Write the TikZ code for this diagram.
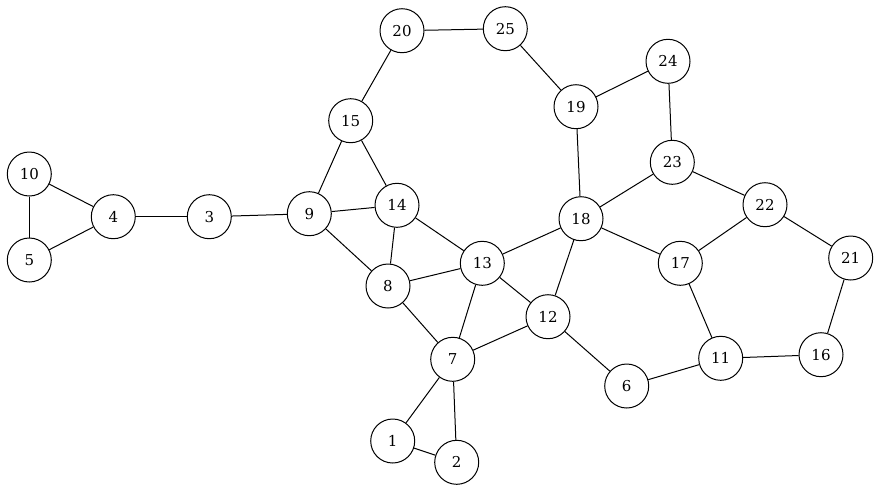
\documentclass[tikz,border=0pt]{standalone}
\usepackage{fontspec}
\setmainfont{DejaVu Serif}
\begin{document}
\begin{tikzpicture}[x=1pt,y=-1pt,
  vtx/.style={circle,draw,line width=1pt,minimum size=44pt,inner sep=0pt,font=\fontsize{15}{18}\selectfont},
  edge/.style={line width=1pt}]
\useasboundingbox (0,0) rectangle (880,491);
\node[vtx] (n20) at (402,30.7) {20};
\node[vtx] (n25) at (505.3,28.7) {25};
\node[vtx] (n19) at (576,106.7) {19};
\node[vtx] (n15) at (350.7,120.7) {15};
\node[vtx] (n9) at (309.3,213.7) {9};
\node[vtx] (n14) at (397,205.3) {14};
\node[vtx] (n18) at (581,218.7) {18};
\node[vtx] (n13) at (482.3,263.3) {13};
\node[vtx] (n8) at (388,286) {8};
\node[vtx] (n24) at (668,61.3) {24};
\node[vtx] (n23) at (672.3,162.3) {23};
\node[vtx] (n22) at (765,204.7) {22};
\node[vtx] (n17) at (680.3,263.3) {17};
\node[vtx] (n21) at (850.7,258) {21};
\node[vtx] (n11) at (720.7,358.3) {11};
\node[vtx] (n16) at (821,354.7) {16};
\node[vtx] (n12) at (548,316.7) {12};
\node[vtx] (n7) at (452.7,359.3) {7};
\node[vtx] (n6) at (626.7,386) {6};
\node[vtx] (n1) at (392.7,441) {1};
\node[vtx] (n2) at (456.7,462.3) {2};
\node[vtx] (n10) at (29.3,174) {10};
\node[vtx] (n5) at (29.3,260) {5};
\node[vtx] (n4) at (113.3,216.7) {4};
\node[vtx] (n3) at (209.3,216.7) {3};
\foreach \a/\b in {20/25,20/15,25/19,19/24,24/23,19/18,23/18,23/22,22/17,22/21,21/16,16/11,11/17,11/6,6/12,18/17,18/12,18/13,15/9,15/14,9/14,9/3,3/4,4/10,4/5,10/5,9/8,14/8,14/13,8/13,8/7,13/7,13/12,12/7,7/1,7/2,1/2}
  \draw[edge] (n\a) -- (n\b);
\end{tikzpicture}
\end{document}
